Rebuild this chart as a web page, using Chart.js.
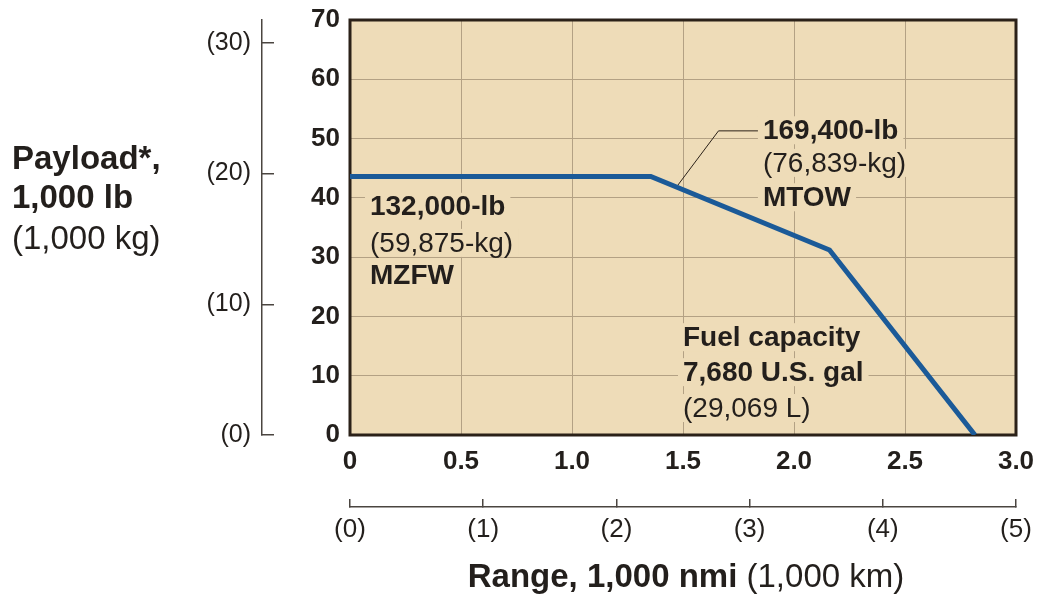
<!DOCTYPE html>
<html>
<head>
<meta charset="UTF-8">
<title>Payload / range</title>
<script src="https://cdn.jsdelivr.net/npm/chart.js"></script>
<style>
  html, body { margin: 0; padding: 0; background: #fff; }
  #wrap { width: 1039px; height: 602px; }
</style>
</head>
<body>
<div id="wrap"><canvas id="prChart" width="1039" height="602"></canvas></div>
<script>
// range in 1,000 nmi, payload in 1,000 lb
const rangeNmi = [0, 1.355, 2.16, 2.815];
const payloadLb = [43.6, 43.6, 31.2, 0];

// tick values
const lbTicks = [0, 10, 20, 30, 40, 50, 60, 70];
const kgTicks = [0, 10, 20, 30];
const nmiTicks = [0, 0.5, 1.0, 1.5, 2.0, 2.5, 3.0];
const kmTicks = [0, 1, 2, 3, 4, 5];

const LB_PER_KG = 2.20462;

const FONT = '"Liberation Sans", Arial, Helvetica, sans-serif';
const ink = '#231f1c';
const tan = '#eedcb8';
const gridCol = '#b3a184';
const axisGray = '#4a4540';

function setTicks(values) {
    return (scale) => { scale.ticks = values.map(v => ({ value: v })); };
}

// fixed axis box sizes, no extra label padding around the plot
function fixSize(w, h) {
    return (s) => {
        if (w) s.width = w;
        if (h) s.height = h;
        s.paddingTop = 0; s.paddingBottom = 0;
        s.paddingLeft = 0; s.paddingRight = 0;
    };
}

// tan plot area + dark frame
const plotBox = {
    id: 'plotBox',
    beforeDraw(chart) {
        const { ctx, chartArea: ca } = chart;
        ctx.save();
        ctx.fillStyle = tan;
        ctx.fillRect(ca.left, ca.top, ca.right - ca.left, ca.bottom - ca.top);
        ctx.restore();
    },
    beforeDatasetsDraw(chart) {
        const { ctx, chartArea: ca } = chart;
        ctx.save();
        ctx.strokeStyle = '#2b2118';
        ctx.lineWidth = 3;
        ctx.strokeRect(ca.left, ca.top, ca.right - ca.left, ca.bottom - ca.top);
        ctx.restore();
    }
};

// text notes inside the plot, placed in data units
const notesPlugin = {
    id: 'notes',
    beforeDatasetsDraw(chart) {
        const { ctx } = chart;
        const sx = chart.scales.x, sy = chart.scales.y;
        const blocks = [
            { x: 0.09, lines: [[38.5, '132,000-lb', true], [32.4, '(59,875-kg)', false], [27.0, 'MZFW', true]] },
            { x: 1.86, lines: [[51.4, '169,400-lb', true], [45.9, '(76,839-kg)', false], [40.1, 'MTOW', true]] },
            { x: 1.50, lines: [[16.5, 'Fuel capacity', true], [10.6, '7,680 U.S. gal', true], [4.55, '(29,069 L)', false]] }
        ];
        ctx.save();
        // leader line to the MTOW corner
        ctx.strokeStyle = '#2b2118';
        ctx.lineWidth = 1;
        ctx.beginPath();
        ctx.moveTo(sx.getPixelForValue(1.47), sy.getPixelForValue(41.8));
        ctx.lineTo(sx.getPixelForValue(1.66), sy.getPixelForValue(51.3));
        ctx.lineTo(sx.getPixelForValue(1.84), sy.getPixelForValue(51.3));
        ctx.stroke();

        ctx.textBaseline = 'middle';
        ctx.textAlign = 'left';
        for (const b of blocks) {
            const px = sx.getPixelForValue(b.x);
            for (const [yv, txt, bold] of b.lines) {
                const py = sy.getPixelForValue(yv);
                ctx.font = (bold ? 'bold ' : '') + '28px ' + FONT;
                const w = ctx.measureText(txt).width;
                ctx.fillStyle = tan;
                ctx.fillRect(px - 5, py - 14, w + 10, 28);
                ctx.fillStyle = ink;
                ctx.fillText(txt, px, py + 1);
            }
        }
        ctx.restore();
    }
};

// axis titles with mixed weights
const titlesPlugin = {
    id: 'titles',
    afterDraw(chart) {
        const { ctx } = chart;
        ctx.save();
        ctx.fillStyle = ink;
        ctx.textBaseline = 'middle';
        ctx.textAlign = 'left';
        ctx.font = 'bold 33px ' + FONT;
        ctx.fillText('Payload*,', 12, 160);
        ctx.fillText('1,000 lb', 12, 199);
        ctx.font = '33px ' + FONT;
        ctx.fillText('(1,000 kg)', 12, 240);

        const boldPart = 'Range, 1,000 nmi ';
        const regPart = '(1,000 km)';
        ctx.font = 'bold 33px ' + FONT;
        const w1 = ctx.measureText(boldPart).width;
        ctx.font = '33px ' + FONT;
        const w2 = ctx.measureText(regPart).width;
        const x0 = 686 - (w1 + w2) / 2;
        ctx.font = 'bold 33px ' + FONT;
        ctx.fillText(boldPart, x0, 578);
        ctx.font = '33px ' + FONT;
        ctx.fillText(regPart, x0 + w1, 578);
        ctx.restore();
    }
};

new Chart(document.getElementById('prChart'), {
    type: 'line',
    data: {
        datasets: [{
            data: rangeNmi.map((x, i) => ({ x: x, y: payloadLb[i] })),
            borderColor: '#1b5a98',
            borderWidth: 5,
            pointRadius: 0,
            tension: 0,
            xAxisID: 'x',
            yAxisID: 'y'
        }]
    },
    options: {
        responsive: false,
        animation: false,
        layout: { padding: { top: 20, right: 23, bottom: 50, left: 0 } },
        plugins: { legend: { display: false }, tooltip: { enabled: false } },
        scales: {
            x: {
                type: 'linear', position: 'bottom', weight: 0, min: 0, max: 3,
                afterBuildTicks: setTicks(nmiTicks),
                afterFit: fixSize(0, 72),
                grid: { color: gridCol, lineWidth: 1, drawTicks: false },
                border: { display: false },
                ticks: {
                    padding: 11, color: ink, autoSkip: false, maxRotation: 0,
                    font: { family: FONT, size: 26, weight: 'bold' },
                    callback: (v) => v === 0 ? '0' : v.toFixed(1)
                }
            },
            x2: {
                type: 'linear', position: 'bottom', weight: 1, min: 0, max: 5,
                afterBuildTicks: setTicks(kmTicks),
                afterFit: fixSize(0, 45),
                grid: { drawOnChartArea: false, drawTicks: true, tickLength: -8, color: axisGray, lineWidth: 1.5 },
                border: { display: true, color: axisGray, width: 1.5 },
                ticks: {
                    padding: 15, color: ink, autoSkip: false, maxRotation: 0,
                    font: { family: FONT, size: 26 },
                    callback: (v) => '(' + v + ')'
                }
            },
            y: {
                type: 'linear', position: 'left', weight: 0, min: 0, max: 70,
                afterBuildTicks: setTicks(lbTicks),
                afterFit: fixSize(88, 0),
                grid: { color: gridCol, lineWidth: 1, drawTicks: false },
                border: { display: false },
                ticks: {
                    padding: 10, color: ink, autoSkip: false,
                    font: { family: FONT, size: 26, weight: 'bold' }
                }
            },
            y2: {
                type: 'linear', position: 'left', weight: 1, min: 0, max: 70 / LB_PER_KG,
                afterBuildTicks: setTicks(kgTicks),
                afterFit: fixSize(262, 0),
                grid: { drawOnChartArea: false, drawTicks: true, tickLength: -12, color: axisGray, lineWidth: 1.5 },
                border: { display: true, color: axisGray, width: 1.5 },
                ticks: {
                    padding: 23, color: ink, autoSkip: false,
                    font: { family: FONT, size: 25 },
                    callback: (v) => '(' + v + ')'
                }
            }
        }
    },
    plugins: [plotBox, notesPlugin, titlesPlugin]
});
</script>
</body>
</html>
